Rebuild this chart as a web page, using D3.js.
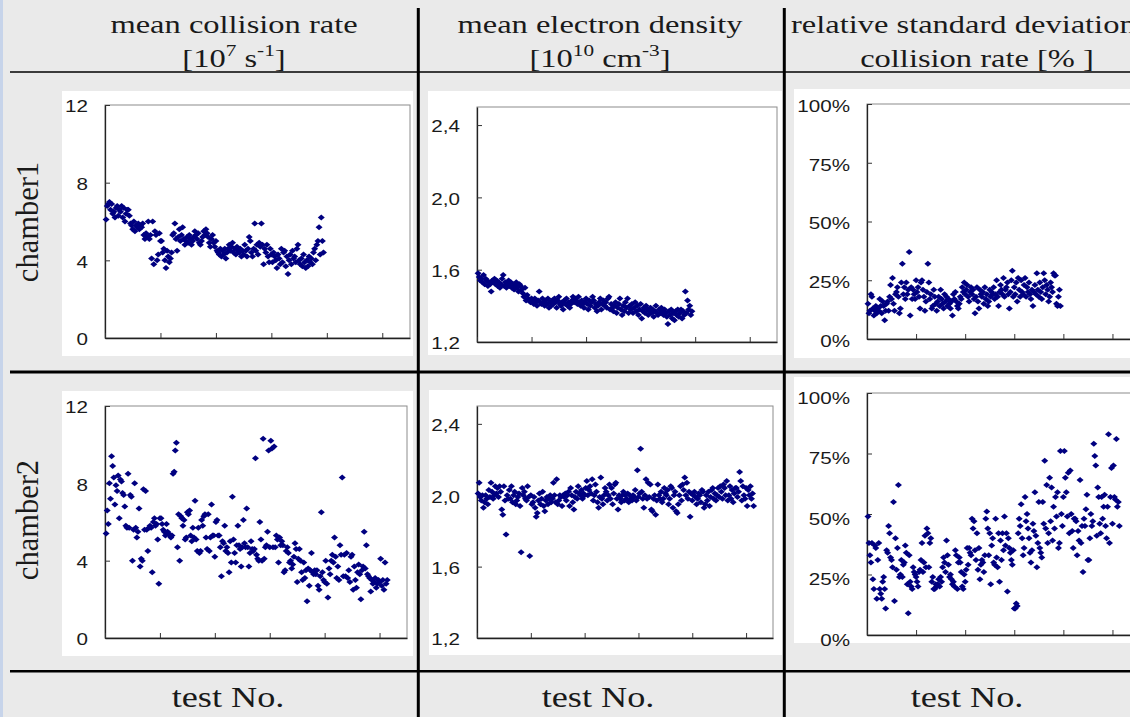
<!DOCTYPE html>
<html>
<head>
<meta charset="utf-8">
<script src="https://d3js.org/d3.v7.min.js"></script>
<style>
  html, body { margin: 0; padding: 0; background: #eaeaea; overflow: hidden; }
  svg { display: block; }
</style>
</head>
<body>
<div id="chart"></div>
<script>
// chamber1: tests 1..197, chamber2: tests 1..257
const c1Rate = [
  6.1, 6.8, 6.9, 7.0, 6.6, 6.9, 6.4, 6.5, 6.2, 6.7,
  6.8, 6.3, 6.6, 6.5, 6.8, 6.2, 6.7, 6.0, 6.4, 6.6,
  6.6, 6.3, 5.9, 5.8, 5.6, 6.0, 5.5, 5.8, 5.7, 5.9,
  5.6, 5.8, 5.7, 5.9, 5.3, 5.1, 5.4, 5.2, 6.0, 5.1,
  5.3, 4.1, 6.0, 3.8, 5.5, 5.3, 4.0, 4.3, 5.4, 5.0,
  5.0, 4.4, 4.6, 4.0, 3.6, 4.5, 4.2, 3.9, 4.1, 4.4,
  5.3, 5.4, 5.9, 5.1, 4.5, 5.2, 5.6, 5.0, 5.3, 5.7,
  5.1, 4.8, 5.0, 5.2, 4.9, 5.3, 5.1, 4.8, 5.0, 5.2,
  5.5, 5.3, 5.1, 5.4, 4.9, 4.8, 5.0, 5.2, 5.5, 5.3,
  5.6, 5.4, 5.2, 4.9, 4.7, 5.1, 5.3, 4.9, 4.7, 5.0,
  4.5, 4.4, 4.3, 4.6, 4.2, 4.5, 4.3, 4.6, 4.1, 4.4,
  4.6, 4.8, 4.5, 4.7, 4.9, 4.4, 4.6, 4.3, 4.7, 4.5,
  4.4, 4.6, 4.2, 4.5, 4.3, 4.8, 4.5, 4.2, 4.6, 5.2,
  5.0, 4.4, 4.2, 4.6, 5.9, 4.5, 4.8, 4.3, 4.9, 4.7,
  5.9, 4.8, 3.8, 4.6, 4.4, 4.8, 4.2, 3.9, 4.6, 4.3,
  3.9, 4.4, 4.2, 4.0, 3.6, 4.3, 4.1, 3.8, 4.6, 3.9,
  4.4, 4.5, 3.7, 4.2, 3.3, 4.0, 4.3, 3.8, 4.5, 4.1,
  4.2, 3.9, 4.6, 4.8, 4.0, 3.8, 4.1, 3.7, 4.3, 3.9,
  3.6, 4.0, 3.7, 4.2, 3.9, 4.1, 3.8, 4.4, 4.6, 4.0,
  4.8, 5.0, 5.7, 4.3, 6.2, 5.0, 4.4
];
const c1Dens = [
  1.58, 1.56, 1.54, 1.55, 1.53, 1.57, 1.52, 1.55, 1.54, 1.51,
  1.53, 1.52, 1.48, 1.54, 1.53, 1.55, 1.52, 1.54, 1.51, 1.53,
  1.50, 1.52, 1.55, 1.57, 1.51, 1.53, 1.50, 1.52, 1.54, 1.51,
  1.53, 1.50, 1.52, 1.49, 1.51, 1.53, 1.50, 1.48, 1.52, 1.51,
  1.49, 1.47, 1.45, 1.50, 1.43, 1.46, 1.44, 1.43, 1.42, 1.44,
  1.43, 1.41, 1.44, 1.42, 1.40, 1.43, 1.48, 1.42, 1.41, 1.44,
  1.42, 1.40, 1.43, 1.41, 1.44, 1.39, 1.42, 1.40, 1.43, 1.41,
  1.44, 1.42, 1.39, 1.43, 1.45, 1.41, 1.40, 1.42, 1.38, 1.43,
  1.41, 1.44, 1.40, 1.42, 1.39, 1.41, 1.43, 1.45, 1.42, 1.44,
  1.43, 1.41, 1.45, 1.42, 1.40, 1.43, 1.41, 1.39, 1.42, 1.44,
  1.41, 1.38, 1.43, 1.40, 1.42, 1.45, 1.43, 1.39, 1.41, 1.37,
  1.40, 1.42, 1.44, 1.38, 1.41, 1.43, 1.40, 1.42, 1.39, 1.44,
  1.45, 1.38, 1.41, 1.39, 1.37, 1.40, 1.42, 1.36, 1.39, 1.41,
  1.44, 1.38, 1.35, 1.40, 1.37, 1.42, 1.39, 1.44, 1.36, 1.40,
  1.38, 1.41, 1.36, 1.39, 1.42, 1.37, 1.40, 1.35, 1.38, 1.41,
  1.33, 1.37, 1.39, 1.36, 1.40, 1.38, 1.35, 1.37, 1.39, 1.36,
  1.38, 1.34, 1.37, 1.40, 1.36, 1.35, 1.38, 1.36, 1.39, 1.37,
  1.35, 1.38, 1.36, 1.34, 1.30, 1.37, 1.35, 1.38, 1.33, 1.36,
  1.32, 1.37, 1.35, 1.38, 1.34, 1.36, 1.38, 1.33, 1.37, 1.35,
  1.48, 1.36, 1.43, 1.38, 1.40, 1.35, 1.37
];
const c1Rsd = [
  15, 11, 12, 19, 18, 13, 10, 12, 14, 11,
  13, 12, 17, 14, 11, 16, 14, 8, 12, 15,
  16, 12, 18, 23, 17, 26, 15, 12, 19, 20,
  22, 18, 11, 13, 24, 32, 19, 22, 17, 24,
  19, 21, 37, 10, 22, 17, 21, 19, 17, 25,
  20, 22, 18, 13, 24, 25, 21, 18, 12, 16,
  20, 32, 24, 17, 19, 13, 14, 21, 18, 15,
  12, 16, 18, 14, 21, 17, 15, 13, 19, 16,
  18, 14, 17, 15, 13, 16, 10, 19, 17, 20,
  16, 14, 13, 15, 18, 17, 22, 20, 24, 19,
  21, 23, 18, 16, 20, 22, 19, 21, 17, 11,
  18, 22, 16, 13, 21, 19, 18, 20, 15, 22,
  17, 19, 14, 16, 21, 18, 20, 19, 22, 17,
  19, 25, 18, 14, 20, 23, 21, 19, 26, 18,
  21, 22, 24, 19, 13, 20, 25, 29, 18, 22,
  19, 24, 16, 26, 21, 18, 25, 20, 19, 23,
  26, 18, 22, 20, 24, 19, 17, 21, 14, 20,
  23, 19, 28, 21, 18, 24, 20, 17, 22, 28,
  25, 19, 23, 21, 16, 18, 24, 22, 20, 28,
  27, 27, 15, 14, 18, 21, 14
];
const c2Rate = [
  5.4, 6.6, 5.9, 8.0, 7.2, 9.4, 8.9, 8.3, 6.9, 7.9,
  7.6, 8.4, 6.2, 8.2, 8.1, 7.5, 7.4, 6.8, 5.8, 5.7,
  8.5, 5.7, 7.4, 7.3, 4.0, 5.6, 8.0, 5.7, 5.2, 5.5,
  6.7, 3.7, 4.1, 4.0, 7.7, 5.6, 7.6, 5.6, 4.5, 5.7,
  5.8, 5.7, 3.4, 6.0, 6.2, 5.8, 5.9, 5.1, 2.8, 6.2,
  6.2, 5.9, 5.6, 5.5, 5.3, 5.9, 5.5, 5.4, 5.3, 5.2,
  5.3, 8.5, 8.6, 9.7, 10.1, 4.7, 6.4, 4.0, 6.3, 6.2,
  5.8, 6.1, 5.1, 5.2, 6.5, 6.4, 6.6, 5.3, 5.0, 5.7,
  5.2, 7.1, 5.1, 4.5, 5.7, 4.4, 4.5, 6.1, 5.8, 6.3,
  6.4, 5.2, 4.6, 6.4, 4.5, 5.2, 6.9, 5.3, 5.3, 4.2,
  6.0, 6.1, 5.3, 5.3, 4.7, 3.2, 5.0, 4.9, 5.8, 4.5,
  4.7, 4.4, 3.4, 5.0, 3.9, 7.3, 5.1, 4.4, 3.9, 4.8,
  5.8, 4.8, 4.6, 3.7, 4.7, 6.1, 4.9, 4.7, 6.7, 4.7,
  3.7, 4.4, 5.0, 4.6, 4.5, 4.6, 9.3, 4.3, 4.1, 4.0,
  6.0, 5.1, 4.0, 10.3, 4.1, 4.7, 4.8, 5.5, 9.7, 4.7,
  10.2, 9.8, 4.7, 9.9, 4.7, 5.3, 5.1, 3.9, 5.2, 4.8,
  5.0, 4.8, 3.4, 3.5, 4.5, 4.7, 4.4, 3.9, 4.0, 3.6,
  3.8, 4.2, 4.9, 4.6, 2.9, 4.1, 4.6, 4.0, 3.4, 3.0,
  3.9, 3.1, 3.5, 1.9, 3.6, 2.7, 3.5, 4.4, 3.4, 3.3,
  3.5, 3.3, 3.5, 2.7, 2.5, 3.2, 6.5, 3.4, 3.0, 2.9,
  4.0, 2.8, 2.1, 3.6, 3.3, 4.0, 4.3, 3.9, 5.2, 4.2,
  3.1, 3.7, 3.0, 4.8, 4.3, 8.3, 3.2, 4.3, 3.2, 4.4,
  3.1, 3.5, 2.9, 4.2, 4.3, 2.5, 3.7, 3.0, 2.6, 3.4,
  3.8, 3.3, 2.0, 3.5, 3.7, 5.5, 3.6, 4.8, 3.3, 3.2,
  3.1, 2.4, 3.0, 2.8, 2.9, 3.1, 2.6, 2.8, 3.0, 2.9,
  4.1, 2.7, 3.0, 2.5, 3.9, 2.8, 3.0
];
const c2Dens = [
  2.01, 2.07, 1.99, 1.97, 2.00, 1.93, 1.96, 2.00, 1.98, 1.95,
  2.03, 1.99, 2.07, 2.02, 1.98, 2.00, 2.05, 2.01, 2.04, 1.99,
  2.05, 2.02, 1.92, 1.89, 2.05, 1.97, 1.78, 2.00, 1.98, 2.03,
  1.98, 2.05, 1.96, 2.00, 2.02, 1.95, 1.97, 1.99, 2.01, 1.94,
  1.68, 2.04, 2.00, 2.02, 1.98, 1.97, 2.05, 1.99, 1.66, 2.00,
  1.95, 1.96, 1.99, 1.93, 1.88, 1.90, 1.97, 2.01, 1.95, 1.98,
  2.02, 1.94, 1.91, 1.97, 1.99, 1.95, 1.98, 2.00, 1.96, 1.98,
  2.07, 2.00, 1.96, 2.09, 1.95, 1.97, 2.00, 1.99, 1.94, 2.00,
  1.99, 2.01, 1.97, 2.00, 2.02, 1.94, 2.04, 2.00, 1.96, 1.92,
  1.99, 2.02, 1.98, 2.05, 2.01, 2.00, 2.03, 1.98, 2.01, 2.00,
  2.04, 2.08, 2.00, 2.03, 2.05, 2.01, 2.09, 1.97, 2.00, 2.06,
  2.02, 1.96, 1.93, 1.99, 2.10, 1.98, 1.95, 2.00, 2.04, 2.02,
  1.97, 2.00, 2.06, 1.98, 2.04, 1.95, 2.01, 2.06, 2.07, 1.98,
  1.92, 2.00, 1.98, 1.96, 2.00, 2.02, 1.97, 2.00, 1.98, 2.01,
  1.96, 2.00, 1.98, 1.97, 2.00, 1.99, 2.03, 1.97, 2.14, 1.99,
  2.01, 2.26, 2.02, 1.98, 1.93, 2.00, 2.09, 1.98, 2.07, 1.99,
  2.06, 1.92, 1.91, 1.98, 2.00, 1.89, 1.97, 2.06, 2.00, 1.98,
  2.02, 1.96, 1.98, 2.04, 2.01, 2.00, 2.03, 1.95, 1.98, 2.05,
  2.04, 1.93, 2.00, 2.02, 1.91, 1.90, 1.95, 2.00, 2.05, 1.97,
  2.06, 2.03, 2.10, 2.00, 2.07, 1.98, 2.02, 1.88, 2.01, 1.97,
  2.00, 2.02, 1.99, 1.95, 1.98, 2.01, 2.00, 1.96, 2.03, 2.02,
  1.93, 1.95, 2.00, 1.97, 2.02, 1.94, 1.99, 2.03, 2.04, 1.98,
  2.01, 1.97, 2.00, 2.04, 1.99, 2.05, 2.02, 1.98, 2.06, 2.04,
  2.00, 2.08, 1.97, 2.00, 2.05, 1.98, 2.03, 1.96, 2.01, 2.04,
  2.04, 1.99, 2.02, 2.13, 2.08, 1.97, 2.05, 2.00, 1.98, 2.04,
  1.94, 2.03, 2.00, 2.05, 1.98, 2.01, 1.94
];
const c2Rsd = [
  49, 38, 33, 30, 38, 23, 19, 37, 36, 15,
  31, 38, 19, 17, 15, 22, 24, 19, 11, 35,
  34, 45, 42, 32, 31, 28, 55, 14, 40, 27,
  36, 62, 24, 25, 31, 24, 29, 30, 37, 34,
  21, 9, 33, 22, 20, 19, 28, 26, 25, 24,
  22, 20, 26, 27, 31, 38, 26, 30, 41, 28,
  44, 42, 28, 38, 40, 22, 24, 19, 19, 21,
  20, 21, 23, 20, 24, 22, 28, 32, 30, 26,
  39, 33, 29, 24, 25, 23, 21, 22, 20, 35,
  33, 19, 30, 32, 30, 26, 20, 19, 25, 22,
  27, 36, 29, 36, 34, 33, 48, 44, 47, 35,
  31, 42, 27, 36, 23, 29, 31, 30, 26, 33,
  48, 51, 44, 33, 42, 21, 37, 40, 30, 29,
  48, 32, 28, 42, 22, 39, 31, 42, 35, 49,
  37, 42, 18, 40, 36, 34, 31, 29, 35, 11,
  11, 13, 12, 42, 48, 45, 54, 40, 33, 36,
  57, 47, 50, 44, 40, 34, 30, 35, 46, 43,
  59, 41, 28, 38, 55, 36, 34, 32, 55, 46,
  72, 44, 62, 38, 42, 65, 47, 61, 39, 53,
  44, 57, 49, 59, 36, 38, 76, 50, 45, 57,
  76, 65, 59, 49, 67, 42, 68, 50, 43, 36,
  48, 48, 47, 33, 43, 39, 64, 38, 45, 26,
  48, 45, 52, 58, 31, 31, 40, 50, 45, 47,
  79, 74, 70, 41, 61, 57, 46, 42, 57, 48,
  53, 58, 45, 40, 53, 83, 38, 57, 69, 46,
  70, 57, 56, 81, 53, 55, 45
];

const xTicks = [0, 50, 100, 150, 200, 250];
const rateTicks = [0, 4, 8, 12];
const densTicks = [1.2, 1.6, 2.0, 2.4];
const rsdTicks = [0, 25, 50, 75, 100];
const rowTitles = ['chamber1', 'chamber2'];
const footTitle = 'test No.';

const width = 1130, height = 717;
const SX = 1.25; // the source picture is stretched sideways
const navy = '#000080';
const serif = '"Liberation Serif", "Times New Roman", serif';
const sans = '"Liberation Sans", Arial, sans-serif';

const svg = d3.select('#chart').append('svg')
  .attr('width', width)
  .attr('height', height);

svg.append('rect').attr('width', width).attr('height', height).attr('fill', '#eaeaea');
svg.append('rect').attr('width', 3).attr('height', height).attr('fill', '#c7d4ea');

// stretched text helper
function stext(x, y, str, size, family, anchor) {
  return svg.append('text')
    .attr('transform', `translate(${x},${y}) scale(${SX},1)`)
    .attr('font-family', family)
    .attr('font-size', size)
    .attr('text-anchor', anchor || 'middle')
    .attr('fill', '#1a1a1a')
    .text(str);
}

// column headers
stext(234, 33, 'mean collision rate', 26, serif);
const h1 = stext(234, 67, '', 26, serif);
h1.append('tspan').text('[10');
h1.append('tspan').attr('dy', -11).attr('font-size', 17).text('7');
h1.append('tspan').attr('dy', 11).text(' s');
h1.append('tspan').attr('dy', -11).attr('font-size', 17).text('-1');
h1.append('tspan').attr('dy', 11).text(']');

stext(600, 33, 'mean electron density', 26, serif);
const h2 = stext(600, 67, '', 26, serif);
h2.append('tspan').text('[10');
h2.append('tspan').attr('dy', -11).attr('font-size', 17).text('10');
h2.append('tspan').attr('dy', 11).text(' cm');
h2.append('tspan').attr('dy', -11).attr('font-size', 17).text('-3');
h2.append('tspan').attr('dy', 11).text(']');

stext(791, 33, 'relative standard deviation', 26, serif, 'start');
stext(977, 67, 'collision rate [% ]', 26, serif);

// row titles
rowTitles.forEach((t, i) => {
  svg.append('text')
    .attr('transform', `translate(38,${[222, 520][i]}) rotate(-90)`)
    .attr('font-family', serif)
    .attr('font-size', 30.5)
    .attr('text-anchor', 'middle')
    .attr('fill', '#1a1a1a')
    .text(t);
});

// footer
[228, 598, 967].forEach(x => stext(x, 707, footTitle, 29, serif));

// panels
const fmtDens = d => d.toFixed(1).replace('.', ',');
const fmtPct = d => d + '%';
const panels = [
  { data: c1Rate, ticks: rateTicks, dom: [0, 12], fmt: String, lab: 1.5, box: [62, 91, 413, 356], plot: [105, 105, 410, 338] },
  { data: c1Dens, ticks: densTicks, dom: [1.2, 2.5], fmt: fmtDens, lab: 1.5, box: [428, 91, 782, 355], plot: [477, 107, 777, 342] },
  { data: c1Rsd, ticks: rsdTicks, dom: [0, 100], fmt: fmtPct, lab: 2, box: [794, 89, 1135, 358], plot: [867, 104, 1137, 339] },
  { data: c2Rate, ticks: rateTicks, dom: [0, 12], fmt: String, lab: 1.5, box: [62, 391, 413, 656], plot: [105, 406, 407, 638] },
  { data: c2Dens, ticks: densTicks, dom: [1.2, 2.5], fmt: fmtDens, lab: 1.5, box: [429, 390, 782, 655], plot: [477, 406, 773, 638] },
  { data: c2Rsd, ticks: rsdTicks, dom: [0, 100], fmt: fmtPct, lab: 5, box: [794, 377, 1135, 643], plot: [867, 393, 1137, 635] }
];

panels.forEach(p => {
  const [bx0, by0, bx1, by1] = p.box;
  const [px0, py0, px1, py1] = p.plot;
  svg.append('rect')
    .attr('x', bx0).attr('y', by0)
    .attr('width', bx1 - bx0).attr('height', by1 - by0)
    .attr('fill', '#fff');

  const x = d3.scaleLinear().domain([0, 275]).range([px0, px1]);
  const y = d3.scaleLinear().domain(p.dom).range([py1, py0]);

  const g = svg.append('g');
  g.append('rect')
    .attr('x', px0).attr('y', py0)
    .attr('width', px1 - px0).attr('height', py1 - py0)
    .attr('fill', 'none')
    .attr('stroke', '#8c8c8c')
    .attr('stroke-width', 1);

  const ya = g.append('g')
    .attr('transform', `translate(${px0},0)`)
    .call(d3.axisLeft(y).tickValues(p.ticks).tickFormat(p.fmt)
      .tickSizeInner(-5).tickSizeOuter(0).tickPadding(17 / SX));
  ya.selectAll('text')
    .attr('transform', `translate(0,${p.lab}) scale(${SX},1)`)
    .attr('font-family', sans)
    .attr('font-size', 16.5)
    .attr('fill', '#1a1a1a');

  const xa = g.append('g')
    .attr('transform', `translate(0,${py1})`)
    .call(d3.axisBottom(x).tickValues(xTicks).tickFormat('')
      .tickSizeInner(-5).tickSizeOuter(0));

  [ya, xa].forEach(a => {
    a.select('.domain').attr('stroke', '#222').attr('stroke-width', 1.3);
    a.selectAll('.tick line').attr('stroke', '#333');
  });

  g.selectAll('path.pt')
    .data(p.data)
    .join('path')
    .attr('class', 'pt')
    .attr('transform', (d, i) => `translate(${x(i + 1)},${y(d)})`)
    .attr('d', 'M0,-3L3.5,0L0,3L-3.5,0Z')
    .attr('fill', navy);
});

// table rules
const rule = (x1, y1, x2, y2, w) => svg.append('line')
  .attr('x1', x1).attr('y1', y1).attr('x2', x2).attr('y2', y2)
  .attr('stroke', '#000').attr('stroke-width', w);
rule(10, 72, width, 72, 1.6);
rule(10, 372, width, 372, 3);
rule(10, 671.3, width, 671.3, 2.6);
rule(418.3, 8, 418.3, height, 3);
rule(784.3, 8, 784.3, height, 3);
</script>
</body>
</html>
